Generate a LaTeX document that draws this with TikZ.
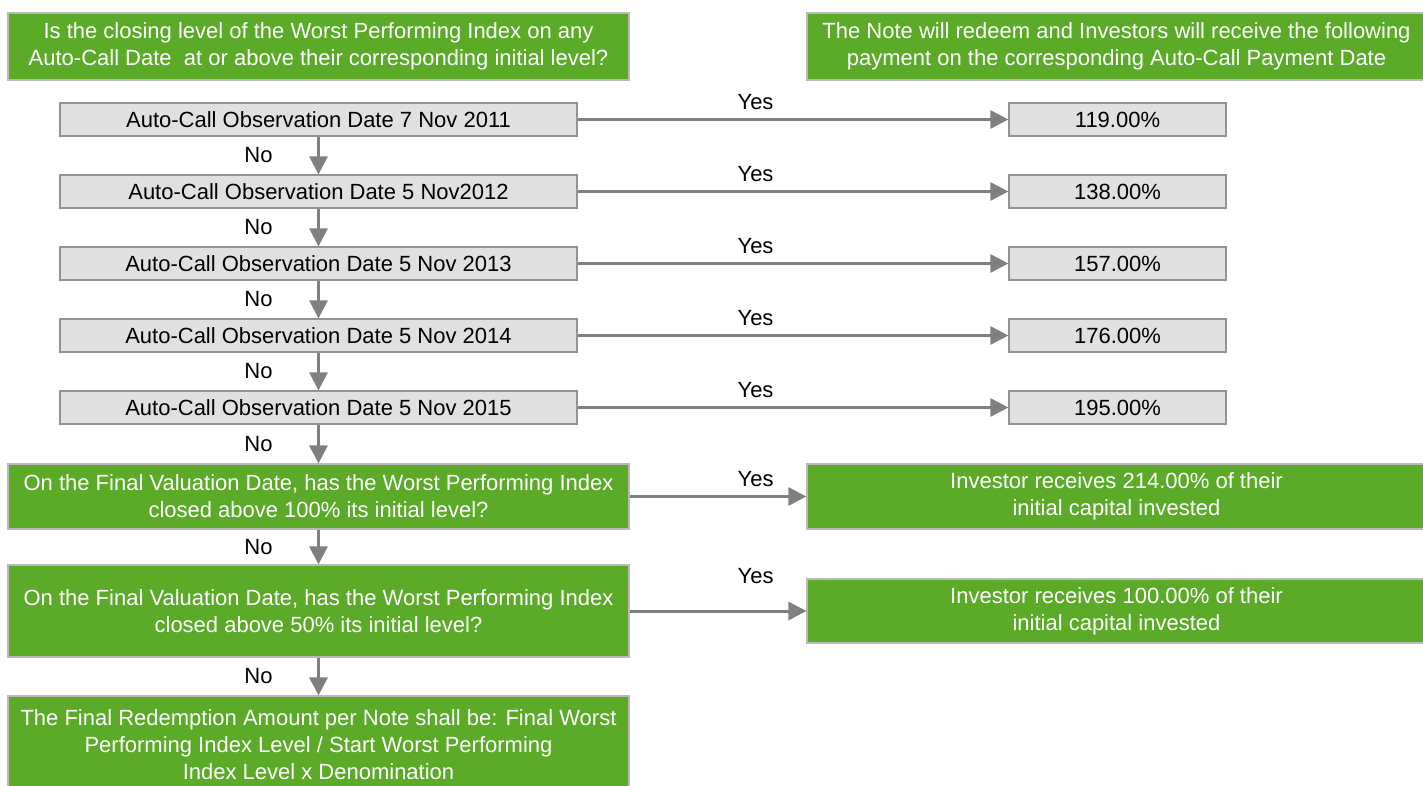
\documentclass[tikz,border=0pt]{standalone}
\usepackage{fontspec}
\setmainfont{Liberation Sans}
\usetikzlibrary{arrows.meta,positioning}

\definecolor{boxgreen}{RGB}{91,170,40}
\definecolor{boxgrey}{RGB}{224,224,224}
\definecolor{linegrey}{RGB}{128,128,128}
\definecolor{edgegrey}{RGB}{185,185,185}

\begin{document}
\begin{tikzpicture}[x=1pt,y=-1pt,on grid,
    every node/.style={font=\fontsize{22}{27}\selectfont},
    every edge/.style={draw=linegrey,line width=3pt},
    >={Triangle[length=18pt,width=18pt]}]
  \tikzstyle{question}=[draw=edgegrey,line width=1.2pt,fill=boxgreen,text=white,
    align=center,inner sep=0pt,minimum width=621pt]
  \tikzstyle{datebox}=[draw=linegrey!85,line width=1.2pt,fill=boxgrey,
    inner sep=0pt,minimum width=517pt,minimum height=33pt]
  \tikzstyle{paybox}=[datebox,minimum width=217pt]

  \useasboundingbox (0,0) rectangle (1423,785);
  \clip (0,0) rectangle (1423,785);

  % left column
  \node[question,minimum height=67pt] (q_top) at (318.5,46.5)
    {Is the closing level of the Worst Performing Index on any\\
     Auto-Call Date\ \ at or above their corresponding initial level?};
  \node[datebox] (obs_1) [below=73pt of q_top] {Auto-Call Observation Date 7 Nov 2011};
  \node[datebox] (obs_2) [below=72pt of obs_1] {Auto-Call Observation Date 5 Nov2012};
  \node[datebox] (obs_3) [below=72pt of obs_2] {Auto-Call Observation Date 5 Nov 2013};
  \node[datebox] (obs_4) [below=72pt of obs_3] {Auto-Call Observation Date 5 Nov 2014};
  \node[datebox] (obs_5) [below=72pt of obs_4] {Auto-Call Observation Date 5 Nov 2015};
  \node[question,minimum height=65pt] (fin_1) [below=89pt of obs_5]
    {On the Final Valuation Date, has the Worst Performing Index\\
     closed above 100\% its initial level?};
  \node[question,minimum height=92pt] (fin_2) [below=114.5pt of fin_1]
    {On the Final Valuation Date, has the Worst Performing Index\\
     closed above 50\% its initial level?};
  \node[question,minimum height=98pt] (redeem) [below=134pt of fin_2]
    {The Final Redemption Amount per Note shall be: Final Worst\\
     Performing Index Level / Start Worst Performing\\
     Index Level x Denomination};

  % right column
  \node[question,minimum width=619pt,minimum height=67pt] (note_top) at (1116.5,46.5)
    {The Note will redeem and Investors will receive the following\\
     payment on the corresponding Auto-Call Payment Date};
  \node[paybox] (pay_1) [right=799pt of obs_1] {119.00\%};
  \node[paybox] (pay_2) [right=799pt of obs_2] {138.00\%};
  \node[paybox] (pay_3) [right=799pt of obs_3] {157.00\%};
  \node[paybox] (pay_4) [right=799pt of obs_4] {176.00\%};
  \node[paybox] (pay_5) [right=799pt of obs_5] {195.00\%};
  \node[question,minimum width=619pt,minimum height=65pt] (inv_1) [right=798pt of fin_1]
    {Investor receives 214.00\% of their\\ initial capital invested};
  \node[question,minimum width=619pt,minimum height=64pt] (inv_2) [right=798pt of fin_2]
    {Investor receives 100.00\% of their\\ initial capital invested};

  \path[->]
  (obs_1) edge node[xshift=-60pt] {No} (obs_2)
          edge node[pos=0.413,yshift=17pt] {Yes} (pay_1)
  (obs_2) edge node[xshift=-60pt] {No} (obs_3)
          edge node[pos=0.413,yshift=17pt] {Yes} (pay_2)
  (obs_3) edge node[xshift=-60pt] {No} (obs_4)
          edge node[pos=0.413,yshift=17pt] {Yes} (pay_3)
  (obs_4) edge node[xshift=-60pt] {No} (obs_5)
          edge node[pos=0.413,yshift=17pt] {Yes} (pay_4)
  (obs_5) edge node[xshift=-60pt] {No} (fin_1)
          edge node[pos=0.413,yshift=17pt] {Yes} (pay_5)
  (fin_1) edge node[xshift=-60pt] {No} (fin_2)
          edge node[pos=0.713,yshift=17pt] {Yes} (inv_1)
  (fin_2) edge node[xshift=-60pt] {No} (redeem)
          edge node[pos=0.713,yshift=35pt] {Yes} (inv_2);
\end{tikzpicture}
\end{document}
